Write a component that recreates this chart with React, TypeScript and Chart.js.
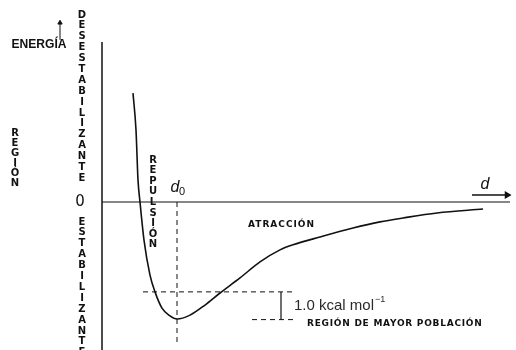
import React, { useEffect, useRef } from "react";
import { Chart, registerables } from "chart.js";

Chart.register(...registerables);

// Potential energy curve (x: distance in Å, y: energy in kcal/mol)
const curveX = [2.62, 2.68, 2.72, 2.76, 2.84, 2.96, 3.06, 3.2, 3.36, 3.5, 3.76, 4.06, 4.36, 4.76, 5.16, 5.56, 5.82, 6.36, 7.02, 7.56, 8.02, 8.7, 9.62];
const curveY = [3.89, 2.57, 0.79, 0.0, -1.36, -2.61, -3.21, -3.79, -4.07, -4.18, -4.04, -3.68, -3.25, -2.71, -2.14, -1.71, -1.53, -1.25, -0.93, -0.71, -0.57, -0.39, -0.25];

const d0 = 3.5;
const minEnergy = -4.2;
const bandTop = -3.21;
const axisX = 2;
const axisTop = 5.71;
const axisBottom = -5.3;
const zeroEnd = 10.16;

const verticalWords = ["DESESTABILIZANTE", "ESTABILIZANTE", "REGIÓN", "REPULSIÓN"];
const labels = ["ENERGÍA", "0", "ATRACCIÓN", "1.0 kcal mol", "REGIÓN DE MAYOR POBLACIÓN"];

const INK = "#111111";

export default function App() {
  const ref = useRef<HTMLCanvasElement | null>(null);

  useEffect(() => {
    if (!ref.current) return;
    const pts = curveX.map((x, i) => ({ x, y: curveY[i] }));

    const textPlugin = {
      id: "texts",
      afterDatasetsDraw(chart: any) {
        const { ctx, scales } = chart;
        const X = (v: number) => scales.x.getPixelForValue(v);
        const Y = (v: number) => scales.y.getPixelForValue(v);
        ctx.save();
        ctx.fillStyle = INK;
        ctx.textBaseline = "middle";
        const put = (t: string, x: number, y: number, font: string, align: CanvasTextAlign = "left", spacing = "0px", maxW?: number) => {
          ctx.font = font;
          ctx.textAlign = align;
          (ctx as any).letterSpacing = spacing;
          if (maxW) ctx.fillText(t, X(x), Y(y), maxW);
          else ctx.fillText(t, X(x), Y(y));
          (ctx as any).letterSpacing = "0px";
        };
        const stack = (w: string, x: number, y0: number, step: number, font: string) => {
          ctx.font = font;
          ctx.textAlign = "center";
          [...w].forEach((ch, i) => ctx.fillText(ch, X(x), Y(y0 - i * step)));
        };
        const vfont = "bold 10px 'DejaVu Sans', sans-serif";
        stack(verticalWords[0], 1.6, 6.68, 0.389, vfont);
        stack(verticalWords[1], 1.6, -0.714, 0.389, vfont);
        stack(verticalWords[2], 0.26, 2.46, 0.357, vfont);
        stack(verticalWords[3], 3.02, 1.5, 0.379, vfont);

        put(labels[0], 0.74, 5.64, "600 13px 'Liberation Sans', sans-serif", "center", "0px", 55);
        put(labels[1], 1.56, 0, "15px 'DejaVu Sans', sans-serif", "center");
        put(labels[2], 4.92, -0.82, "bold 9px 'DejaVu Sans', sans-serif", "left", "1px");
        ctx.fillStyle = "#2a2a2a";
        put(labels[3], 5.84, -3.71, "15px 'Liberation Sans', sans-serif");
        ctx.font = "15px 'Liberation Sans', sans-serif";
        const w = ctx.measureText(labels[3]).width;
        ctx.font = "9px 'Liberation Sans', sans-serif";
        ctx.textAlign = "left";
        ctx.fillText("−1", X(5.84) + w + 1, Y(-3.71) - 6);
        ctx.fillStyle = INK;
        put(labels[4], 6.1, -4.36, "bold 9px 'DejaVu Sans', sans-serif", "left", "0.75px");

        // d0 and d
        put("d", 3.46, 0.5, "italic 16px 'Liberation Sans', sans-serif", "center");
        ctx.font = "11px 'Liberation Sans', sans-serif";
        ctx.textAlign = "left";
        ctx.fillText("0", X(3.46) + 4, Y(0.5) + 4);
        put("d", 9.66, 0.61, "italic 16px 'Liberation Sans', sans-serif", "center");
        ctx.restore();
      },
    };

    const solid = (data: any[], extra: any = {}) => ({
      data,
      showLine: true,
      borderColor: INK,
      backgroundColor: INK,
      borderWidth: 1.5,
      pointRadius: 0,
      pointHoverRadius: 0,
      clip: false,
      ...extra,
    });
    const dashed = (data: any[]) =>
      solid(data, { borderDash: [5, 4], borderWidth: 1 });

    const chart = new Chart(ref.current, {
      type: "scatter",
      data: {
        datasets: [
          solid(pts, { cubicInterpolationMode: "monotone", borderWidth: 1.6 }),
          solid([{ x: axisX, y: axisBottom }, { x: axisX, y: axisTop }]),
          solid([{ x: axisX, y: 0 }, { x: zeroEnd, y: 0 }], { borderWidth: 1.2 }),
          dashed([{ x: d0, y: 0 }, { x: d0, y: -5.1 }]),
          dashed([{ x: 2.82, y: bandTop }, { x: 5.82, y: bandTop }]),
          dashed([{ x: 5.0, y: minEnergy }, { x: 5.82, y: minEnergy }]),
          solid([{ x: 5.58, y: bandTop }, { x: 5.58, y: minEnergy }], { borderWidth: 1.2 }),
          solid([{ x: 9.4, y: 0.25 }, { x: 10.1, y: 0.25 }], {
            borderWidth: 1.5,
            pointRadius: [0, 3],
            pointStyle: "triangle",
            pointRotation: [0, 90],
          }),
          solid([{ x: 1.16, y: 5.79 }, { x: 1.16, y: 6.4 }], {
            borderWidth: 1,
            pointRadius: [0, 2.5],
            pointStyle: "triangle",
            pointRotation: 0,
          }),
        ],
      },
      options: {
        animation: false,
        responsive: false,
        events: [],
        layout: { padding: 0, autoPadding: false },
        plugins: { legend: { display: false }, tooltip: { enabled: false }, title: { display: false } },
        scales: {
          x: { type: "linear", display: false, min: -0.04, max: 10.28 },
          y: { type: "linear", display: false, min: -5.2857, max: 7.2143 },
        },
      },
      plugins: [textPlugin],
    });
    return () => chart.destroy();
  }, []);

  return (
    <div style={{ position: "fixed", left: 0, top: 0, width: 516, height: 350, background: "#fff" }}>
      <canvas ref={ref} width={516} height={350} style={{ display: "block" }} />
    </div>
  );
}
